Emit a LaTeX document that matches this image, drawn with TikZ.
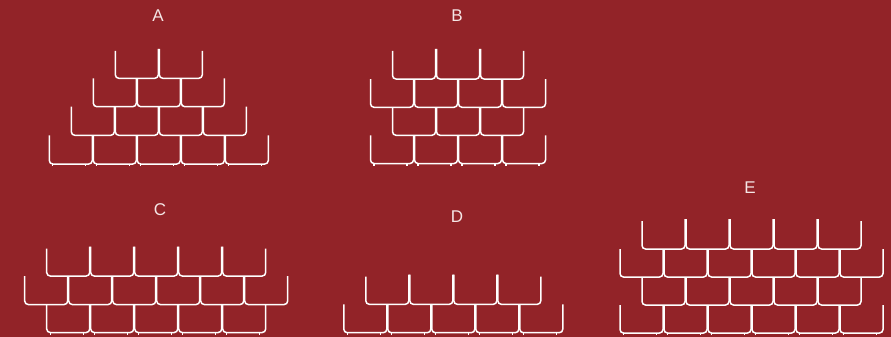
\documentclass[tikz,border=0pt]{standalone}
\usepackage{fontspec}
\setmainfont{Liberation Sans}
\definecolor{bgred}{RGB}{146,35,40}
\definecolor{labelc}{RGB}{245,230,230}
\tikzset{
  tile/.style={draw=white,line width=1.5pt,rounded corners=3.5pt},
  tick/.style={draw=white,line width=1.2pt},
  panellabel/.style={text=labelc,font=\fontsize{17}{17}\selectfont,inner sep=0pt}
}
% #1 left x, #2 top y, #3 bottom y, #4 number of tiles, #5 raise interior tops (pt), #6 ticks (1/0)
\newcommand\shinglerow[6]{%
  \foreach \i in {1,...,#4}{%
    \pgfmathsetmacro\xa{#1+(\i-1)*44+0.5}%
    \pgfmathsetmacro\xb{#1+\i*44-0.5}%
    \pgfmathsetmacro\ya{ifthenelse(\i==1,#2,#2-#5)}%
    \pgfmathsetmacro\yb{ifthenelse(\i==#4,#2,#2-#5)}%
    \draw[tile] (\xa,\ya) -- (\xa,#3) -- (\xb,#3) -- (\xb,\yb);
    \ifnum#6=1
      \draw[tick] (\xa+3.5,#3) -- ++(0,2.2);
      \draw[tick] (\xb-6.5,#3) -- ++(0,2.2);
    \fi
  }%
}
\begin{document}
\begin{tikzpicture}[x=1pt,y=-1pt]
\fill[bgred] (0,0) rectangle (891,337);
\useasboundingbox (0,0) rectangle (891,337);
% labels
\node[panellabel] (la) at (158,16) {A};
\node[panellabel] (lb) at (457,16) {B};
\node[panellabel] (lc) at (160,210) {C};
\node[panellabel] (ld) at (457,217) {D};
\node[panellabel] (le) at (750,188) {E};
% Panel A
\shinglerow{114.8}{51}{78.3}{2}{2}{0}
\shinglerow{92.8}{78.3}{106.7}{3}{0}{0}
\shinglerow{70.8}{106.7}{135.3}{4}{0}{0}
\shinglerow{48.8}{135.3}{164}{5}{0}{1}
% Panel B
\shinglerow{392}{51}{79}{3}{2}{0}
\shinglerow{370}{79}{107.3}{4}{0}{0}
\shinglerow{392}{107.3}{135.3}{3}{0}{0}
\shinglerow{370}{135.3}{163.5}{4}{0}{1}
% Panel C
\shinglerow{46.2}{248.5}{276}{5}{2}{0}
\shinglerow{24.2}{276}{304.5}{6}{0}{0}
\shinglerow{46.2}{304.5}{332.5}{5}{0}{1}
% Panel D
\shinglerow{365.3}{276.7}{304.3}{4}{2}{0}
\shinglerow{343.3}{304.3}{332.7}{5}{0}{1}
% Panel E
\shinglerow{641.5}{221}{249}{5}{2}{0}
\shinglerow{619.5}{249}{277}{6}{0}{0}
\shinglerow{641.5}{277}{305}{5}{0}{0}
\shinglerow{619.5}{305}{333}{6}{0}{1}
\end{tikzpicture}
\end{document}
